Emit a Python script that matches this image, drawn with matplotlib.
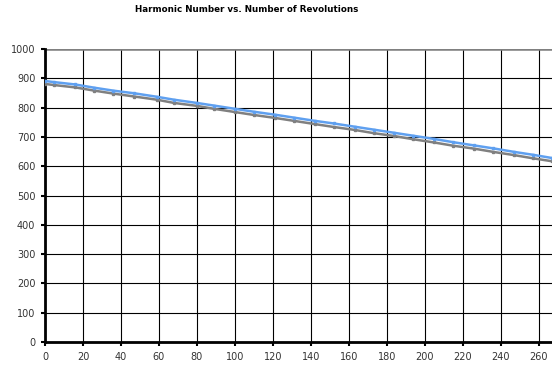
import matplotlib
matplotlib.use("Agg")
import matplotlib.pyplot as plt

title = "Harmonic Number vs. Number of Revolutions"
x_ticks = [0, 20, 40, 60, 80, 100, 120, 140, 160, 180, 200, 220, 240, 260]
y_ticks = [0, 100, 200, 300, 400, 500, 600, 700, 800, 900, 1000]

revs = [0, 5, 16, 26, 36, 47, 59, 68, 80, 89, 100, 110, 121, 131, 142, 152, 163,
        173, 184, 194, 205, 215, 226, 236, 247, 257, 267]
blue = [891, 887, 879, 868, 858, 849, 837, 827, 816, 807, 796, 786, 776, 766, 755,
        746, 735, 725, 714, 704, 693, 682, 671, 661, 649, 639, 628]
gray = [881, 877, 869, 858, 848, 838, 827, 816, 806, 796, 785, 775, 765, 755, 744,
        734, 724, 713, 703, 692, 681, 670, 660, 649, 638, 627, 617]

fig = plt.figure(figsize=(5.52, 3.68), dpi=100)
ax = fig.add_axes([0.0815, 0.0707, 0.9185, 0.796])

ax.plot(revs, gray, color="#808080", lw=1.8, marker="s", ms=2, zorder=3)
ax.plot(revs, blue, color="#5fa0f0", lw=1.8, marker="s", ms=2, zorder=4)

ax.set_xlim(0, 267)
ax.set_ylim(0, 1000)
ax.set_xticks(x_ticks)
ax.set_yticks(y_ticks)
ax.grid(True, color="black", lw=0.8)
ax.set_axisbelow(True)
for s in ["top", "right"]:
    ax.spines[s].set_visible(False)
ax.spines["left"].set_linewidth(2)
ax.spines["bottom"].set_linewidth(2)
ax.tick_params(axis="both", labelsize=7, length=3, width=1.5, colors="black",
               labelcolor="#333333", pad=4)
ax.axhline(1000, color="#808080", lw=1.8, zorder=2)

fig.text(0.447, 0.975, title, ha="center", va="center", fontsize=6.3, fontweight="bold")
fig.savefig("out.png", dpi=100)
